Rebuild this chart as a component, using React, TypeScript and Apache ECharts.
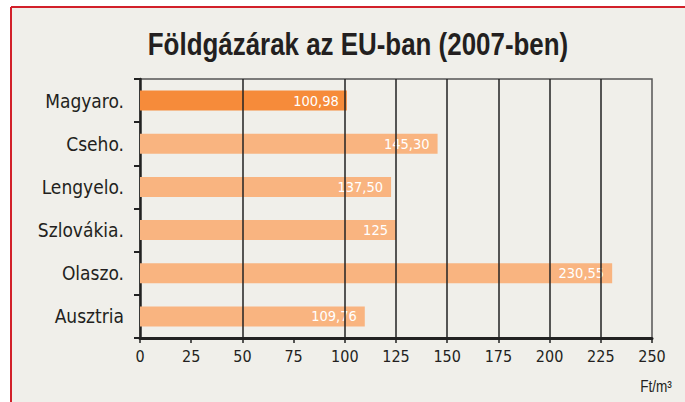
import React, { useEffect, useRef } from "react";
import * as echarts from "echarts";

const categories = ["Magyaro.", "Cseho.", "Lengyelo.", "Szlovákia.", "Olaszo.", "Ausztria"];
// bar lengths as drawn in the picture (Ft/m3)
const barValues = [100.98, 145.3, 122.6, 125, 230.55, 109.76];
const valueLabels = ["100,98", "145,30", "137,50", "125", "230,55", "109,76"];
const highlighted = [true, false, false, false, false, false];
const gridLineValues = [50, 100, 125, 150, 175, 200, 225];
const titleText = "Földgázárak az EU-ban (2007-ben)";
const unitText = "Ft/m³";

const FONT = "'DejaVu Sans Condensed', 'Liberation Sans Narrow', sans-serif";
const TITLE_FONT = "'Liberation Sans', Arial, sans-serif";

export default function App() {
  const ref = useRef<HTMLDivElement>(null);
  useEffect(() => {
    if (!ref.current) return;
    const chart = echarts.init(ref.current, null, { renderer: "svg" });
    chart.setOption({
      animation: false,
      backgroundColor: "#ffffff",
      textStyle: { fontFamily: FONT },
      graphic: [
        { type: "rect", z: -10, shape: { x: 11, y: 7, width: 680, height: 400 }, style: { fill: "#f0efea" } },
        { type: "line", z: 10, shape: { x1: 11, y1: 7, x2: 685, y2: 7 }, style: { stroke: "#d2202a", lineWidth: 2 } },
        { type: "line", z: 10, shape: { x1: 11, y1: 7, x2: 11, y2: 402 }, style: { stroke: "#d2202a", lineWidth: 2 } },
        {
          type: "text",
          x: 358,
          y: 44,
          scaleX: 0.81,
          style: {
            text: titleText,
            fontFamily: TITLE_FONT,
            fontSize: 32,
            fontWeight: "bold",
            fill: "#231f20",
            textAlign: "center",
            textVerticalAlign: "middle",
          },
        },
        {
          type: "text",
          x: 656,
          y: 387,
          scaleX: 0.85,
          style: {
            text: unitText,
            fontFamily: TITLE_FONT,
            fontSize: 16,
            fill: "#231f20",
            textAlign: "center",
            textVerticalAlign: "middle",
          },
        },
      ],
      grid: {
        left: 140,
        right: 33,
        top: 79,
        bottom: 64,
        show: true,
        borderColor: "#555555",
        borderWidth: 1.5,
        backgroundColor: "transparent",
      },
      xAxis: {
        type: "value",
        min: 0,
        max: 250,
        interval: 25,
        axisLine: { show: true, lineStyle: { color: "#222222", width: 3 } },
        axisTick: { show: true, length: 5, lineStyle: { color: "#222222", width: 1.5 } },
        axisLabel: { fontSize: 16, color: "#231f20", margin: 10, fontFamily: FONT },
        splitLine: { show: false },
      },
      yAxis: {
        type: "category",
        inverse: true,
        data: categories,
        axisLine: { show: true, lineStyle: { color: "#222222", width: 2.5 } },
        axisTick: { show: true, length: 6, lineStyle: { color: "#222222", width: 2 } },
        axisLabel: { fontSize: 19, color: "#231f20", margin: 16, fontFamily: FONT },
      },
      series: [
        {
          type: "bar",
          barWidth: 20,
          data: barValues.map((v, i) => ({
            value: v,
            itemStyle: { color: highlighted[i] ? "#f68b3a" : "#f9b480" },
          })),
          label: {
            show: true,
            position: "insideRight",
            distance: 8,
            color: "#ffffff",
            fontSize: 14.5,
            fontFamily: FONT,
            formatter: (p: any) => valueLabels[p.dataIndex],
          },
          markLine: {
            silent: true,
            symbol: ["none", "none"],
            label: { show: false },
            lineStyle: { color: "#222222", width: 1.5, type: "solid" },
            data: gridLineValues.map((x) => ({ xAxis: x })),
          },
        },
      ],
    });
    return () => chart.dispose();
  }, []);
  return <div ref={ref} style={{ position: "fixed", left: 0, top: 0, width: 685, height: 402 }} />;
}
